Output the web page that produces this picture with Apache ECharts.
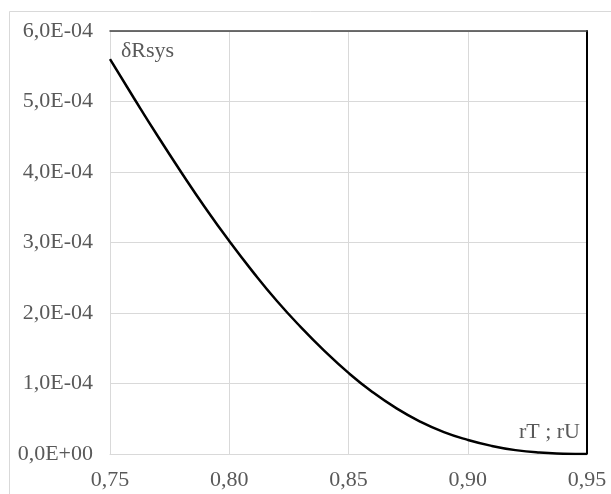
<!DOCTYPE html>
<html>
<head>
<meta charset="UTF-8">
<title>dRsys</title>
<script src="https://cdn.jsdelivr.net/npm/echarts@6/dist/echarts.min.js"></script>
<style>
  html, body { margin: 0; padding: 0; background: #fff; }
  #main { width: 611px; height: 494px; }
</style>
</head>
<body>
<div id="main"></div>
<script type="text/javascript">
// r values along the x axis
var rValues = [0.75, 0.76, 0.77, 0.78, 0.79, 0.80, 0.81, 0.82, 0.83, 0.84, 0.85,
               0.86, 0.87, 0.88, 0.89, 0.90, 0.91, 0.92, 0.93, 0.94, 0.95];
// dRsys
var dRsys = [5.60e-4, 5.05e-4, 4.51e-4, 3.99e-4, 3.49e-4, 3.02e-4, 2.58e-4, 2.17e-4, 1.80e-4, 1.46e-4, 1.15e-4,
             0.88e-4, 0.65e-4, 0.46e-4, 0.31e-4, 0.20e-4, 0.115e-4, 0.055e-4, 0.02e-4, 0.005e-4, 0.0];
var xTicks = ['0,75', '0,80', '0,85', '0,90', '0,95'];
var yTicks = ['0,0E+00', '1,0E-04', '2,0E-04', '3,0E-04', '4,0E-04', '5,0E-04', '6,0E-04'];

var points = rValues.map(function (r, i) { return [r, dRsys[i]]; });

var font = 'Liberation Serif, Times New Roman, serif';
var textColor = '#595959';
var gridColor = '#d9d9d9';

var myChart = echarts.init(document.getElementById('main'));

var option = {
    animation: false,
    backgroundColor: '#fff',
    graphic: [{
        type: 'rect',
        z: -10,
        silent: true,
        shape: { x: 9.5, y: 11.5, width: 700, height: 600 },
        style: { fill: 'none', stroke: gridColor, lineWidth: 1 }
    }],
    grid: { left: 110, right: 24, top: 31, bottom: 40 },
    xAxis: [{
        type: 'value',
        min: 0.75, max: 0.95, interval: 0.05,
        name: 'rT ; rU',
        nameLocation: 'end',
        nameGap: -7,
        nameTextStyle: {
            fontFamily: font, fontSize: 22, color: textColor,
            align: 'right', verticalAlign: 'bottom', padding: [0, 0, 11, 0]
        },
        axisLine: { show: true, lineStyle: { color: gridColor, width: 1 } },
        axisTick: { show: false },
        splitLine: { show: true, lineStyle: { color: gridColor, width: 1 } },
        axisLabel: {
            margin: 15, fontFamily: font, fontSize: 22, color: textColor,
            formatter: function (v) {
                return xTicks[Math.round((v - 0.75) / 0.05)];
            }
        }
    }, {
        type: 'value',
        position: 'top',
        min: 0.75, max: 0.95,
        axisLine: { show: true, onZero: false, lineStyle: { color: '#404040', width: 1.5 } },
        axisTick: { show: false },
        axisLabel: { show: false },
        splitLine: { show: false }
    }],
    yAxis: [{
        type: 'value',
        min: 0, max: 6e-4, interval: 1e-4,
        name: 'δRsys',
        nameLocation: 'end',
        nameGap: -31,
        nameTextStyle: {
            fontFamily: font, fontSize: 22, color: textColor,
            align: 'left', verticalAlign: 'bottom', padding: [0, 0, 0, 11]
        },
        axisLine: { show: true, lineStyle: { color: gridColor, width: 1 } },
        axisTick: { show: false },
        splitLine: { show: true, lineStyle: { color: gridColor, width: 1 } },
        axisLabel: {
            margin: 17, fontFamily: font, fontSize: 22, color: textColor,
            formatter: function (v) {
                return yTicks[Math.round(v / 1e-4)];
            }
        }
    }, {
        type: 'value',
        position: 'right',
        min: 0, max: 6e-4,
        axisLine: { show: true, onZero: false, lineStyle: { color: '#000', width: 2 } },
        axisTick: { show: false },
        axisLabel: { show: false },
        splitLine: { show: false }
    }],
    series: [{
        type: 'line',
        data: points,
        smooth: true,
        showSymbol: false,
        lineStyle: { color: '#000', width: 2.5 },
        z: 5
    }]
};

myChart.setOption(option);
</script>
</body>
</html>
